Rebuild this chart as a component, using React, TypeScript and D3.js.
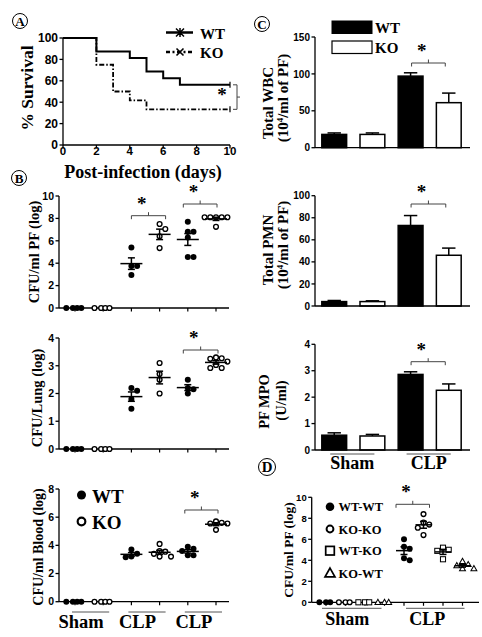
import React from "react";
import * as d3 from "d3";

const SERIF = "'Liberation Serif', 'Times New Roman', serif";
const SANS = "'Liberation Sans', Arial, sans-serif";

// ---------- Panel A: survival ----------
const wtDays = [0, 2, 4, 5, 6, 7, 10];
const wtSurvival = [100, 87.5, 81.25, 68.75, 62.5, 56.25, 56.25];
const koDays = [0, 2, 3, 4, 5, 10];
const koSurvival = [100, 75, 50, 41.67, 33.33, 33.33];
const survTicksX = [0, 2, 4, 6, 8, 10];
const survTicksY = [0, 20, 40, 60, 80, 100];

// ---------- Panel B: CFU scatter ----------
const bGroups = ["Sham-WT", "Sham-KO", "CLP1-WT", "CLP1-KO", "CLP2-WT", "CLP2-KO"];
const pfValues = [
  [0, 0, 0, 0],
  [0, 0, 0, 0],
  [5.4, 3.75, 3.75, 2.95],
  [7.5, 7.05, 6.4, 5.35],
  [7.7, 6.8, 6.8, 6.3, 4.55, 4.55],
  [8.1, 8.1, 8.1, 8.1, 8.1, 7.25],
];
const lungValues = [
  [0, 0, 0, 0],
  [0, 0, 0, 0],
  [2.2, 2.1, 1.8, 1.45],
  [3.1, 2.7, 2.5, 2.0],
  [2.5, 2.2, 2.15, 2.0],
  [3.3, 3.27, 3.25, 3.15, 3.03, 2.92, 2.92],
];
const bloodValues = [
  [0, 0, 0, 0],
  [0, 0, 0, 0],
  [3.7, 3.4, 3.2, 3.15],
  [4.1, 3.6, 3.55, 3.4, 3.2, 3.2],
  [3.9, 3.75, 3.6, 3.3, 3.3],
  [5.7, 5.6, 5.55, 5.55, 5.1],
];
const pfTicks = [0, 2, 4, 6, 8, 10];
const lungTicks = [0, 1, 2, 3, 4];
const bloodTicks = [0, 2, 4, 6, 8];
const bCategoryLabels = ["Sham", "CLP", "CLP"];

// ---------- Panel C: bars ----------
const cGroups = ["Sham-WT", "Sham-KO", "CLP-WT", "CLP-KO"];
const wbcMean = [18, 18, 97, 61];
const wbcSem = [2, 2, 4.5, 13];
const pmnMean = [4, 4, 73, 46];
const pmnSem = [1, 0.7, 9, 6.5];
const mpoMean = [0.56, 0.53, 2.86, 2.26];
const mpoSem = [0.09, 0.06, 0.1, 0.24];
const wbcTicks = [0, 50, 100, 150];
const pmnTicks = [0, 20, 40, 60, 80, 100];
const mpoTicks = [0, 1, 2, 3, 4];
const cCategoryLabels = ["Sham", "CLP"];
const seriesNames = ["WT", "KO"];

// ---------- Panel D: chimera scatter ----------
const dGroups = ["S-WT-WT", "S-KO-KO", "S-WT-KO", "S-KO-WT", "C-WT-WT", "C-KO-KO", "C-WT-KO", "C-KO-WT"];
const dSeries = ["WT-WT", "KO-KO", "WT-KO", "KO-WT"];
const dValues = [
  [0, 0, 0],
  [0, 0, 0],
  [0, 0, 0],
  [0, 0, 0],
  [6.0, 5.3, 5.1, 4.2, 4.0],
  [8.4, 7.6, 7.4, 7.1, 6.4],
  [5.2, 5.0, 4.9, 4.1],
  [3.9, 3.6, 3.5, 3.2, 3.2],
];
const dTicks = [0, 2, 4, 6, 8, 10];

// ---------- helpers ----------
function swarm(vals: number[], y: (v: number) => number, cx: number, r: number) {
  const placed: { x: number; y: number }[] = [];
  const out: { x: number; y: number }[] = new Array(vals.length);
  const order = vals.map((v, i) => ({ v, i })).sort((a, b) => b.v - a.v);
  for (const { v, i } of order) {
    const py = y(v);
    let k = 0;
    let px = cx;
    while (k < 40) {
      const off = k === 0 ? 0 : (k % 2 === 1 ? 1 : -1) * Math.ceil(k / 2) * r * 1.9;
      px = cx + off;
      if (placed.every((p) => Math.hypot(p.x - px, p.y - py) >= r * 1.8)) break;
      k++;
    }
    placed.push({ x: px, y: py });
    out[i] = { x: px, y: py };
  }
  return out;
}

const sem = (v: number[]) => (v.length > 1 ? (d3.deviation(v) as number) / Math.sqrt(v.length) : 0);

function YAxis({ x, y, ticks, fs }: any) {
  const [r0, r1] = y.range();
  return (
    <g>
      <line x1={x} x2={x} y1={r0} y2={r1} stroke="#000" strokeWidth={1.3} />
      {ticks.map((t: number) => (
        <g key={t}>
          <line x1={x - 3.5} x2={x} y1={y(t)} y2={y(t)} stroke="#000" strokeWidth={1.3} />
          <text x={x - 5} y={y(t)} dy="0.36em" textAnchor="end" fontFamily={SANS} fontWeight="bold" fontSize={fs}>
            {t}
          </text>
        </g>
      ))}
    </g>
  );
}

function RotLabel({ x, y, fs, children }: any) {
  return (
    <text
      transform={`translate(${x},${y}) rotate(-90)`}
      textAnchor="middle"
      dy="0.35em"
      fontFamily={SERIF}
      fontWeight="bold"
      fontSize={fs}
    >
      {children}
    </text>
  );
}

function Bracket({ x1, x2, y }: any) {
  const sx = x1 + (x2 - x1) * 0.3;
  return (
    <g>
      <path
        d={`M${x1},${y + 3.5}V${y}H${x2}V${y + 3.5}M${(x1 + x2) / 2},${y}V${y - 3.5}`}
        fill="none"
        stroke="#444"
        strokeWidth={1}
      />
      <text x={sx} y={y - 14 + 8} textAnchor="middle" fontFamily={SERIF} fontWeight="bold" fontSize={19}>
        *
      </text>
    </g>
  );
}

function Circled({ x, y, r, letter }: any) {
  return (
    <g>
      <circle cx={x} cy={y} r={r} fill="none" stroke="#000" strokeWidth={1} />
      <text x={x} y={y} dy="0.35em" textAnchor="middle" fontFamily={SERIF} fontWeight="bold" fontSize={r * 1.75}>
        {letter}
      </text>
    </g>
  );
}

function Marker({ kind, x, y, s }: any) {
  if (kind === 0) return <circle cx={x} cy={y} r={s} fill="#000" />;
  if (kind === 1) return <circle cx={x} cy={y} r={s * 0.8} fill="#fff" stroke="#000" strokeWidth={s * 0.45} />;
  if (kind === 2)
    return <rect x={x - s} y={y - s} width={2 * s} height={2 * s} fill="#fff" stroke="#000" strokeWidth={s * 0.4} />;
  const h = s * 1.1;
  return (
    <path
      d={`M${x},${y - h * 1.1}L${x + h * 1.05},${y + h * 0.75}L${x - h * 1.05},${y + h * 0.75}Z`}
      fill="#fff"
      stroke="#000"
      strokeWidth={s * 0.4}
    />
  );
}

function ScatterPanel({ values, groups, x, y, ticks, axisX, axisEnd, kinds, r, meanHalf, fs }: any) {
  const y0 = y.range()[0];
  return (
    <g>
      <YAxis x={axisX} y={y} ticks={ticks} fs={fs} />
      <line x1={axisX} x2={axisEnd} y1={y0} y2={y0} stroke="#000" strokeWidth={1.3} />
      {groups.map((g: string) => (
        <line key={g} x1={x(g)} x2={x(g)} y1={y0} y2={y0 + 3.5} stroke="#000" strokeWidth={1.2} />
      ))}
      {values.map((vals: number[], gi: number) => {
        const cx = x(groups[gi]);
        const m = d3.mean(vals) as number;
        // sham points at zero sit packed together on the axis
        const pts = m > 0 ? swarm(vals, y, cx, r) : vals.map((v, i) => ({ x: cx + (i - (vals.length - 1) / 2) * r * 1.4 + (i === 0 ? -r * 0.8 : 0), y: y(v) }));
        const s = sem(vals);
        const kind = kinds[gi];
        return (
          <g key={gi}>
            {pts.map((p, i) => (
              <Marker key={i} kind={kind} x={p.x} y={p.y} s={kind >= 2 ? r * 0.85 : r} />
            ))}
            {m > 0 && (
              <g stroke="#000" strokeWidth={1.5}>
                <line x1={cx - meanHalf} x2={cx + meanHalf} y1={y(m)} y2={y(m)} />
                <line x1={cx} x2={cx} y1={y(m - s)} y2={y(m + s)} />
                <line x1={cx - 3.5} x2={cx + 3.5} y1={y(m - s)} y2={y(m - s)} />
                <line x1={cx - 3.5} x2={cx + 3.5} y1={y(m + s)} y2={y(m + s)} />
              </g>
            )}
          </g>
        );
      })}
    </g>
  );
}

function BarPanel({ means, sems, x, y, ticks, axisX, axisEnd, fs }: any) {
  const y0 = y.range()[0];
  const bw = x.bandwidth();
  return (
    <g>
      {cGroups.map((g, i) => {
        const bx = x(g) as number;
        const top = y(means[i]);
        const cap = y(means[i] + sems[i]);
        const cx = bx + bw / 2;
        return (
          <g key={g}>
            <line x1={cx} x2={cx} y1={top} y2={cap} stroke="#000" strokeWidth={1.5} />
            <line x1={cx - bw * 0.27} x2={cx + bw * 0.27} y1={cap} y2={cap} stroke="#000" strokeWidth={1.5} />
            <rect
              x={bx}
              y={top}
              width={bw}
              height={y0 - top}
              fill={i % 2 === 0 ? "#000" : "#fff"}
              stroke="#000"
              strokeWidth={1.5}
            />
          </g>
        );
      })}
      <YAxis x={axisX} y={y} ticks={ticks} fs={fs} />
      <line x1={axisX} x2={axisEnd} y1={y0} y2={y0} stroke="#000" strokeWidth={1.3} />
    </g>
  );
}

export default function App() {
  // Panel A scales
  const ax = d3.scaleLinear().domain([0, 10]).range([63, 230]);
  const ay = d3.scaleLinear().domain([0, 100]).range([145, 38]);
  const survLine = d3
    .line<[number, number]>()
    .x((d) => ax(d[0]))
    .y((d) => ay(d[1]))
    .curve(d3.curveStepAfter);
  const wtPath = survLine(wtDays.map((d, i) => [d, wtSurvival[i]]) as [number, number][]);
  const koPath = survLine(koDays.map((d, i) => [d, koSurvival[i]]) as [number, number][]);
  const wtEnd = wtSurvival[wtSurvival.length - 1];
  const koEnd = koSurvival[koSurvival.length - 1];

  // Panel B scales
  const bx = d3.scalePoint<string>().domain(bGroups).range([75, 216]);
  const pfY = d3.scaleLinear().domain([0, 10]).range([308, 196]);
  const lungY = d3.scaleLinear().domain([0, 4]).range([449, 338]);
  const bloodY = d3.scaleLinear().domain([0, 8]).range([601.7, 489]);
  const bKinds = [0, 1, 0, 1, 0, 1];

  // Panel C scales
  const cx = d3.scaleBand<string>().domain(cGroups).range([318, 465]).paddingInner(0.35).paddingOuter(0.1);
  const wbcY = d3.scaleLinear().domain([0, 150]).range([147.7, 37]);
  const pmnY = d3.scaleLinear().domain([0, 100]).range([306, 195.7]);
  const mpoY = d3.scaleLinear().domain([0, 4]).range([450, 344.3]);
  const cc = (g: string) => (cx(g) as number) + cx.bandwidth() / 2;

  // Panel D scales
  const dx = d3.scalePoint<string>().domain(dGroups).range([326, 462.5]);
  const dY = d3.scaleLinear().domain([0, 10]).range([602.3, 497.3]);
  const dKinds = [0, 1, 2, 3, 0, 1, 2, 3];
  const dLegendY = [506.7, 529, 550.7, 573.3];

  const bPairs = [
    [bGroups[0], bGroups[1]],
    [bGroups[2], bGroups[3]],
    [bGroups[4], bGroups[5]],
  ];

  return (
    <svg width={482} height={637} style={{ position: "absolute", left: 0, top: 0, background: "#fff" }}>
      <rect width={482} height={637} fill="#fff" />
      {/* ================= Panel A ================= */}
      <Circled x={20} y={21} r={7.5} letter="A" />
      <YAxis x={63} y={ay} ticks={survTicksY} fs={12} />
      <line x1={63} x2={230} y1={145} y2={145} stroke="#000" strokeWidth={1.3} />
      {survTicksX.map((t) => (
        <g key={t}>
          <line x1={ax(t)} x2={ax(t)} y1={145} y2={148.5} stroke="#000" strokeWidth={1.3} />
          <text x={ax(t)} y={155} textAnchor="middle" fontFamily={SANS} fontWeight="bold" fontSize={11.5}>
            {t}
          </text>
        </g>
      ))}
      <path d={koPath as string} fill="none" stroke="#000" strokeWidth={1.8} strokeDasharray="5,2,1.5,2" />
      <path d={wtPath as string} fill="none" stroke="#000" strokeWidth={2} />
      <line x1={ax(10)} x2={ax(10)} y1={ay(wtEnd) - 3} y2={ay(wtEnd) + 3} stroke="#000" strokeWidth={1.2} />
      <line x1={ax(10)} x2={ax(10)} y1={ay(koEnd) - 3} y2={ay(koEnd) + 3} stroke="#000" strokeWidth={1.2} />
      <path
        d={`M${ax(10) + 3},${ay(wtEnd)}H${ax(10) + 7}V${ay(koEnd)}H${ax(10) + 3}M${ax(10) + 7},${(ay(wtEnd) + ay(koEnd)) / 2}H${ax(10) + 10}`}
        fill="none"
        stroke="#444"
        strokeWidth={1}
      />
      <text x={222} y={101} textAnchor="middle" fontFamily={SERIF} fontWeight="bold" fontSize={19}>
        *
      </text>
      <RotLabel x={27} y={88} fs={17.5}>% Survival</RotLabel>
      <text x={143} y={178} textAnchor="middle" fontFamily={SERIF} fontWeight="bold" fontSize={18}>
        Post-infection (days)
      </text>
      {/* legend A */}
      <line x1={166} x2={193} y1={32.5} y2={32.5} stroke="#000" strokeWidth={2.5} />
      <path d="M176,28.5L180,32.5L176,36.5M184,28.5L180,32.5L184,36.5M180,28V37" fill="none" stroke="#000" strokeWidth={1.5} />
      <line x1={166} x2={193} y1={52} y2={52} stroke="#000" strokeWidth={2.5} strokeDasharray="4,2.5,2,2.5" />
      <path d="M176.5,48.5L183.5,55.5M183.5,48.5L176.5,55.5" fill="none" stroke="#000" strokeWidth={1.6} />
      <text x={200} y={38.5} fontFamily={SERIF} fontWeight="bold" fontSize={15}>
        {seriesNames[0]}
      </text>
      <text x={200} y={57.5} fontFamily={SERIF} fontWeight="bold" fontSize={15}>
        {seriesNames[1]}
      </text>

      {/* ================= Panel B ================= */}
      <Circled x={19} y={178} r={7.5} letter="B" />
      <ScatterPanel values={pfValues} groups={bGroups} x={bx} y={pfY} ticks={pfTicks} axisX={59} axisEnd={229} kinds={bKinds} r={3} meanHalf={11} fs={10.5} />
      <RotLabel x={34} y={252} fs={14.5}>CFU/ml PF (log)</RotLabel>
      <Bracket x1={(bx(bGroups[2]) as number) + 0} x2={(bx(bGroups[3]) as number) + 6} y={215.7} />
      <Bracket x1={(bx(bGroups[4]) as number) - 4.5} x2={(bx(bGroups[5]) as number) + 1} y={204} />

      <ScatterPanel values={lungValues} groups={bGroups} x={bx} y={lungY} ticks={lungTicks} axisX={59} axisEnd={229} kinds={bKinds} r={3} meanHalf={11} fs={10.5} />
      <RotLabel x={37} y={398} fs={14.5}>CFU/Lung (log)</RotLabel>
      <Bracket x1={(bx(bGroups[4]) as number) - 4.5} x2={(bx(bGroups[5]) as number) + 2} y={350} />

      <ScatterPanel values={bloodValues} groups={bGroups} x={bx} y={bloodY} ticks={bloodTicks} axisX={59} axisEnd={229} kinds={bKinds} r={3} meanHalf={11} fs={10.5} />
      <RotLabel x={38} y={547} fs={14}>CFU/ml Blood (log)</RotLabel>
      <Bracket x1={(bx(bGroups[4]) as number) - 3} x2={(bx(bGroups[5]) as number) + 2} y={510} />
      {/* legend B */}
      <Marker kind={0} x={81.5} y={495} s={4.5} />
      <Marker kind={1} x={81.5} y={521.5} s={4.8} />
      <text x={92} y={503} fontFamily={SERIF} fontWeight="bold" fontSize={19}>
        {seriesNames[0]}
      </text>
      <text x={92} y={528.5} fontFamily={SERIF} fontWeight="bold" fontSize={19}>
        {seriesNames[1]}
      </text>
      {bPairs.map((p, i) => {
        const a = bx(p[0]) as number;
        const b = bx(p[1]) as number;
        return (
          <g key={i}>
            <line x1={a - 3} x2={b + 6} y1={612} y2={612} stroke="#555" strokeWidth={1} />
            <text x={(a + b) / 2 - 8} y={628} textAnchor="middle" fontFamily={SERIF} fontWeight="bold" fontSize={18.5}>
              {bCategoryLabels[i]}
            </text>
          </g>
        );
      })}

      {/* ================= Panel C ================= */}
      <Circled x={262} y={24} r={7.5} letter="C" />
      <BarPanel means={wbcMean} sems={wbcSem} x={cx} y={wbcY} ticks={wbcTicks} axisX={315} axisEnd={470} fs={10} />
      <rect x={332} y={21} width={40} height={12.5} fill="#000" stroke="#000" strokeWidth={1} />
      <rect x={332} y={41} width={40} height={12.5} fill="#fff" stroke="#000" strokeWidth={1.2} />
      <text x={375} y={33} fontFamily={SERIF} fontWeight="bold" fontSize={15}>
        {seriesNames[0]}
      </text>
      <text x={375} y={52.5} fontFamily={SERIF} fontWeight="bold" fontSize={15}>
        {seriesNames[1]}
      </text>
      <RotLabel x={268} y={103} fs={15}>Total WBC</RotLabel>
      <text transform={`translate(282.5,98) rotate(-90)`} textAnchor="middle" dy="0.35em" fontFamily={SERIF} fontWeight="bold" fontSize={15}>
        (10<tspan dy="-5" fontSize={9}>4</tspan>
        <tspan dy="5">/ml of PF)</tspan>
      </text>
      <Bracket x1={cc(cGroups[2]) + 1} x2={cc(cGroups[3]) - 3.5} y={63} />

      <BarPanel means={pmnMean} sems={pmnSem} x={cx} y={pmnY} ticks={pmnTicks} axisX={315} axisEnd={470} fs={10} />
      <RotLabel x={267.5} y={250} fs={15}>Total PMN</RotLabel>
      <text transform={`translate(282.5,245) rotate(-90)`} textAnchor="middle" dy="0.35em" fontFamily={SERIF} fontWeight="bold" fontSize={15}>
        (10<tspan dy="-5" fontSize={9}>4</tspan>
        <tspan dy="5">/ml of PF)</tspan>
      </text>
      <Bracket x1={cc(cGroups[2]) + 0.5} x2={cc(cGroups[3]) - 3} y={204} />

      <BarPanel means={mpoMean} sems={mpoSem} x={cx} y={mpoY} ticks={mpoTicks} axisX={315} axisEnd={470} fs={10} />
      <RotLabel x={264} y={401.5} fs={14.5}>PF MPO</RotLabel>
      <RotLabel x={281} y={400.5} fs={14.5}>(U/ml)</RotLabel>
      <Bracket x1={cc(cGroups[2]) + 0.5} x2={cc(cGroups[3]) - 3.5} y={361.7} />
      {[
        [cGroups[0], cGroups[1]],
        [cGroups[2], cGroups[3]],
      ].map((p, i) => {
        const a = cc(p[0]);
        const b = cc(p[1]);
        return (
          <g key={i}>
            <line x1={a - 4} x2={b + 2} y1={454} y2={454} stroke="#555" strokeWidth={1} />
            <text x={(a + b) / 2 - 1} y={469} textAnchor="middle" fontFamily={SERIF} fontWeight="bold" fontSize={18}>
              {cCategoryLabels[i]}
            </text>
          </g>
        );
      })}

      {/* ================= Panel D ================= */}
      <Circled x={267} y={467} r={8.5} letter="D" />
      <ScatterPanel values={dValues} groups={dGroups} x={dx} y={dY} ticks={dTicks} axisX={311.7} axisEnd={479} kinds={dKinds} r={3} meanHalf={8} fs={9.5} />
      <RotLabel x={288} y={550} fs={13.5}>CFU/ml PF (log)</RotLabel>
      <Bracket x1={(dx(dGroups[4]) as number) - 8} x2={(dx(dGroups[5]) as number) + 6} y={504.3} />
      {dSeries.map((s, i) => (
        <g key={s}>
          <Marker kind={i} x={330} y={dLegendY[i]} s={4.3} />
          <text x={338.5} y={dLegendY[i] + 4.5} fontFamily={SERIF} fontWeight="bold" fontSize={12.5}>
            {s}
          </text>
        </g>
      ))}
      {[
        [dGroups[0], dGroups[3]],
        [dGroups[4], dGroups[7]],
      ].map((p, i) => {
        const a = dx(p[0]) as number;
        const b = dx(p[1]) as number;
        return (
          <g key={i}>
            <line x1={a - 4 + i * 6} x2={b - 3 + i * 5} y1={608.3} y2={608.3} stroke="#555" strokeWidth={1} />
            <text x={(a + b) / 2 - 8 + i * 2} y={624.5} textAnchor="middle" fontFamily={SERIF} fontWeight="bold" fontSize={18}>
              {cCategoryLabels[i]}
            </text>
          </g>
        );
      })}
    </svg>
  );
}
